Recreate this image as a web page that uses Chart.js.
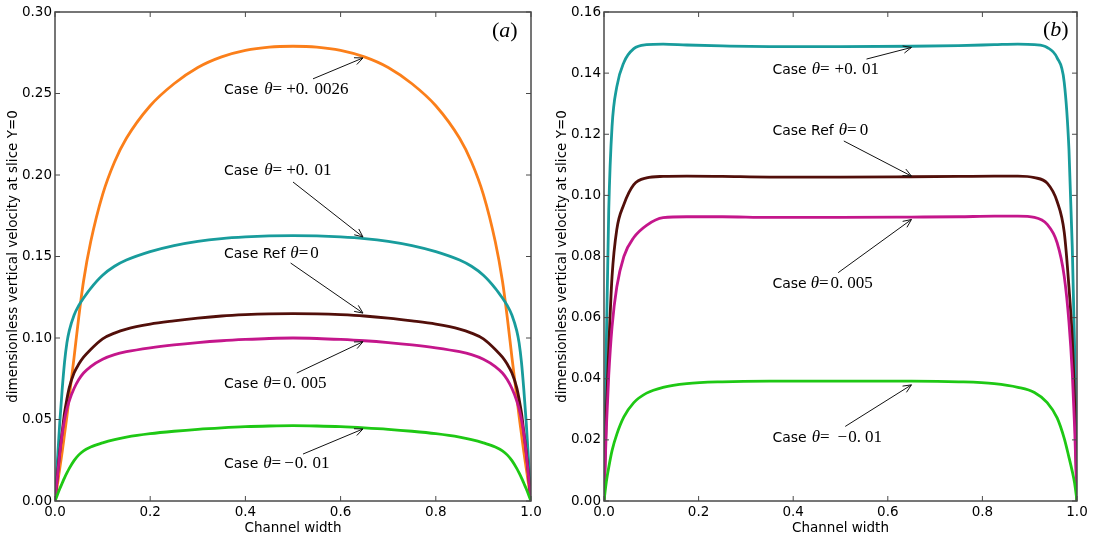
<!DOCTYPE html>
<html>
<head>
<meta charset="utf-8">
<script src="https://cdn.jsdelivr.net/npm/chart.js@4.4.0/dist/chart.umd.min.js"></script>
<style>
  html, body { margin: 0; padding: 0; background: #fff; }
  #wrap { position: relative; width: 1099px; height: 542px; }
  #chartA { position: absolute; left: 0; top: 0; }
  #chartB { position: absolute; left: 549px; top: 0; }
</style>
</head>
<body>
<div id="wrap">
  <canvas id="chartA" width="549" height="542"></canvas>
  <canvas id="chartB" width="550" height="542"></canvas>
</div>
<script>
// panel (a): channel positions and velocity profiles
const xA = [0, .01, .015, .02, .025, .03, .04, .05, .06, .075, .1, .125, .15, .2, .25, .3, .35, .4, .45, .5,
            .55, .6, .65, .7, .75, .8, .85, .875, .9, .925, .94, .95, .96, .97, .975, .98, .985, .99, 1];
const thetaP0026A = [0, .020, .030, .041, .052, .064, .088, .113, .135, .159, .188, .208, .2225, .2425, .256, .266, .2725, .2765, .2785, .279,
                     .2785, .2765, .2725, .266, .256, .2425, .2225, .208, .188, .159, .135, .113, .088, .064, .052, .041, .030, .020, 0];
const thetaP001A  = [0, .048, .068, .085, .097, .1045, .1140, .1200, .1245, .1305, .1385, .1440, .1478, .1530, .1567, .1593, .1610, .1620, .1626, .1628,
                     .1626, .1620, .1610, .1593, .1567, .1530, .1478, .1440, .1385, .1305, .1245, .1200, .1140, .1045, .097, .085, .068, .048, 0];
const thetaRefA   = [0, .030, .042, .054, .0625, .0695, .0785, .0840, .0882, .0930, .0995, .1030, .1055, .1085, .1105, .1122, .1135, .1143, .1148, .1150,
                     .1148, .1143, .1135, .1122, .1105, .1085, .1055, .1030, .0995, .0930, .0882, .0840, .0785, .0695, .0625, .054, .042, .030, 0];
const theta0005A  = [0, .029, .041, .050, .0565, .0615, .0690, .0745, .0785, .0825, .0870, .0898, .0916, .0940, .0958, .0972, .0983, .0991, .0997, .1000,
                     .0997, .0991, .0983, .0972, .0958, .0940, .0916, .0898, .0870, .0825, .0785, .0745, .0690, .0615, .0565, .050, .041, .029, 0];
const thetaM001A  = [0, .0075, .0109, .0142, .0172, .0200, .0248, .0283, .0308, .0331, .0357, .0377, .0392, .0413, .0428, .0440, .0449, .0456, .0460, .0462,
                     .0460, .0456, .0449, .0440, .0428, .0413, .0392, .0377, .0357, .0331, .0308, .0283, .0248, .0200, .0172, .0142, .0109, .0075, 0];

// panel (b)
const xB = [0, .005, .01, .017, .027, .042, .063, .09, .125, .175, .25, .35, .5, .65, .75, .825, .875, .91, .937, .958, .973, .983, .99, .995, 1];
const thetaP001B = [0, .052, .095, .1225, .1355, .1435, .148, .1493, .1495, .1492, .1489, .1487, .1487, .1488, .149, .1493, .1495, .1493, .1484, .1450, .1370, .1150, .0830, .0500, 0];
const thetaRefB  = [0, .029, .050, .0734, .0888, .097, .1035, .1057, .1062, .1063, .1062, .1060, .1060, .1061, .1062, .1063, .1063, .1058, .1040, .0980, .0880, .0700, .0530, .0320, 0];
const theta0005B = [0, .024, .041, .057, .070, .080, .0862, .0902, .0927, .0930, .0930, .0928, .0928, .0929, .0930, .0932, .0932, .0928, .0905, .0845, .0735, .0585, .0420, .0240, 0];
const thetaM001B = [0, .0064, .011, .0165, .0218, .0275, .0322, .0353, .0372, .0384, .0390, .0392, .0392, .0392, .0390, .0384, .0372, .0355, .0322, .0272, .0205, .0143, .0097, .0058, 0];

const xTicks = [0, 0.2, 0.4, 0.6, 0.8, 1.0];
const yTicksA = [0, 0.05, 0.10, 0.15, 0.20, 0.25, 0.30];
const yTicksB = [0, 0.02, 0.04, 0.06, 0.08, 0.10, 0.12, 0.14, 0.16];

const COLORS = {
  p0026: '#fb7f1a',
  p001: '#189c9c',
  ref: '#520f0a',
  c0005: '#c4168b',
  m001: '#1ec814'
};

const FONTS = {
  sans: '14px "DejaVu Sans"',
  it: 'italic 17px "Liberation Serif"',
  rm: '17px "Liberation Serif"',
  bigIt: 'italic 22px "Liberation Serif"',
  bigRm: '22px "Liberation Serif"'
};

// annotations in data coordinates: text start, arrow tail, arrow tip
// numbers inside parts are extra gaps in pixels
const notesA = [
  { at: [.355, .2528], tail: [.542, .259], tip: [.647, .2718],
    parts: [['sans', 'Case'], 6, ['it', 'θ'], ['rm', '='], 4, ['rm', '+'], ['rm', '0.'], 6, ['rm', '0026']] },
  { at: [.355, .2031], tail: [.500, .1957], tip: [.647, .1620],
    parts: [['sans', 'Case'], 6, ['it', 'θ'], ['rm', '='], 4, ['rm', '+'], ['rm', '0.'], 6, ['rm', '01']] },
  { at: [.355, .1523], tail: [.495, .1460], tip: [.647, .1153],
    parts: [['sans', 'Case Ref'], 5, ['it', 'θ'], ['rm', '='], 2, ['rm', '0']] },
  { at: [.355, .0726], tail: [.508, .0785], tip: [.647, .0977],
    parts: [['sans', 'Case'], 5, ['it', 'θ'], ['rm', '='], 2, ['rm', '0.'], 5, ['rm', '005']] },
  { at: [.355, .0233], tail: [.521, .0288], tip: [.647, .0442],
    parts: [['sans', 'Case'], 5, ['it', 'θ'], ['rm', '='], 3, ['rm', '−'], 1, ['rm', '0.'], 5, ['rm', '01']] },
  { at: [.918, .2877], parts: [['bigRm', '('], ['bigIt', 'a'], ['bigRm', ')']] }
];
const notesB = [
  { at: [.356, .1415], tail: [.555, .1446], tip: [.650, .1484],
    parts: [['sans', 'Case'], 5, ['it', 'θ'], ['rm', '='], 5, ['rm', '+'], ['rm', '0.'], 5, ['rm', '01']] },
  { at: [.356, .1214], tail: [.507, .1178], tip: [.650, .1063],
    parts: [['sans', 'Case Ref'], 5, ['it', 'θ'], ['rm', '='], 3, ['rm', '0']] },
  { at: [.356, .0714], tail: [.495, .0747], tip: [.650, .0921],
    parts: [['sans', 'Case'], 4, ['it', 'θ'], ['rm', '='], 2, ['rm', '0.'], 4, ['rm', '005']] },
  { at: [.356, .0211], tail: [.510, .0244], tip: [.650, .0380],
    parts: [['sans', 'Case'], 5, ['it', 'θ'], ['rm', '='], 8, ['rm', '−'], 1, ['rm', '0.'], 4, ['rm', '01']] },
  { at: [.928, .1538], parts: [['bigRm', '('], ['bigIt', 'b'], ['bigRm', ')']] }
];

Chart.defaults.font.family = '"DejaVu Sans"';
Chart.defaults.color = '#000';

function series(xs, ys, color) {
  return {
    data: xs.map((x, i) => ({ x: x, y: ys[i] })),
    borderColor: color,
    borderWidth: 2.8,
    pointRadius: 0,
    fill: false,
    cubicInterpolationMode: 'monotone'
  };
}

function arrow(ctx, x1, y1, x2, y2) {
  const a = Math.atan2(y2 - y1, x2 - x1);
  const len = 9, spread = 0.42;
  ctx.beginPath();
  ctx.moveTo(x1, y1);
  ctx.lineTo(x2, y2);
  ctx.moveTo(x2 - len * Math.cos(a - spread), y2 - len * Math.sin(a - spread));
  ctx.lineTo(x2, y2);
  ctx.lineTo(x2 - len * Math.cos(a + spread), y2 - len * Math.sin(a + spread));
  ctx.stroke();
}

const framePlugin = {
  id: 'frame',
  afterDatasetsDraw(chart) {
    const { ctx, chartArea: ca, scales } = chart;
    const xs = scales.x, ys = scales.y;
    ctx.save();
    ctx.strokeStyle = '#4a4a4a';
    ctx.lineWidth = 1.5;
    ctx.strokeRect(ca.left, ca.top, ca.right - ca.left, ca.bottom - ca.top);
    ctx.lineWidth = 1;
    ctx.beginPath();
    xs.ticks.forEach(t => {
      const p = xs.getPixelForValue(t.value);
      ctx.moveTo(p, ca.bottom); ctx.lineTo(p, ca.bottom - 5);
      ctx.moveTo(p, ca.top); ctx.lineTo(p, ca.top + 5);
    });
    ys.ticks.forEach(t => {
      const p = ys.getPixelForValue(t.value);
      ctx.moveTo(ca.left, p); ctx.lineTo(ca.left + 5, p);
      ctx.moveTo(ca.right, p); ctx.lineTo(ca.right - 5, p);
    });
    ctx.stroke();

    const notes = chart.options.plugins.frame.notes;
    ctx.strokeStyle = '#111';
    ctx.fillStyle = '#000';
    ctx.lineWidth = 1;
    ctx.textBaseline = 'alphabetic';
    ctx.textAlign = 'left';
    notes.forEach(n => {
      let x = xs.getPixelForValue(n.at[0]);
      const y = ys.getPixelForValue(n.at[1]) + 5;
      n.parts.forEach(p => {
        if (typeof p === 'number') { x += p; return; }
        ctx.font = FONTS[p[0]];
        ctx.fillText(p[1], x, y);
        x += ctx.measureText(p[1]).width;
      });
      if (n.tip) {
        arrow(ctx,
          xs.getPixelForValue(n.tail[0]), ys.getPixelForValue(n.tail[1]),
          xs.getPixelForValue(n.tip[0]), ys.getPixelForValue(n.tip[1]));
      }
    });
    ctx.restore();
  }
};

function makeChart(id, datasets, yTicks, notes, padRight) {
  const yMax = yTicks[yTicks.length - 1];
  return new Chart(document.getElementById(id), {
    type: 'line',
    data: { datasets: datasets },
    plugins: [framePlugin],
    options: {
      responsive: false,
      animation: false,
      layout: { padding: { top: 12, right: padRight, left: 0, bottom: 0 } },
      plugins: {
        legend: { display: false },
        tooltip: { enabled: false },
        frame: { notes: notes }
      },
      scales: {
        x: {
          type: 'linear',
          min: 0, max: 1,
          afterFit: s => { s.height = 41; },
          afterBuildTicks: s => { s.ticks = xTicks.map(v => ({ value: v })); },
          grid: { display: false, drawTicks: false },
          border: { display: false },
          ticks: {
            padding: 3, maxRotation: 0, autoSkip: false,
            font: { size: 13.5 },
            callback: v => v.toFixed(1)
          },
          title: {
            display: true, text: 'Channel width',
            font: { size: 13.5 }, padding: { top: 0, bottom: 5 }
          }
        },
        y: {
          type: 'linear',
          min: 0, max: yMax,
          afterFit: s => { s.width = 55; },
          afterBuildTicks: s => { s.ticks = yTicks.map(v => ({ value: v })); },
          grid: { display: false, drawTicks: false },
          border: { display: false },
          ticks: {
            padding: 3, autoSkip: false,
            font: { size: 13.5 },
            callback: v => v.toFixed(2)
          },
          title: {
            display: true, text: 'dimensionless vertical velocity at slice Y=0',
            font: { size: 13.5 }, padding: { top: 5, bottom: 0 }
          }
        }
      }
    }
  });
}

makeChart('chartA', [
  series(xA, thetaM001A, COLORS.m001),
  series(xA, theta0005A, COLORS.c0005),
  series(xA, thetaRefA, COLORS.ref),
  series(xA, thetaP001A, COLORS.p001),
  series(xA, thetaP0026A, COLORS.p0026)
], yTicksA, notesA, 18);

makeChart('chartB', [
  series(xB, thetaM001B, COLORS.m001),
  series(xB, theta0005B, COLORS.c0005),
  series(xB, thetaRefB, COLORS.ref),
  series(xB, thetaP001B, COLORS.p001)
], yTicksB, notesB, 22);
</script>
</body>
</html>
